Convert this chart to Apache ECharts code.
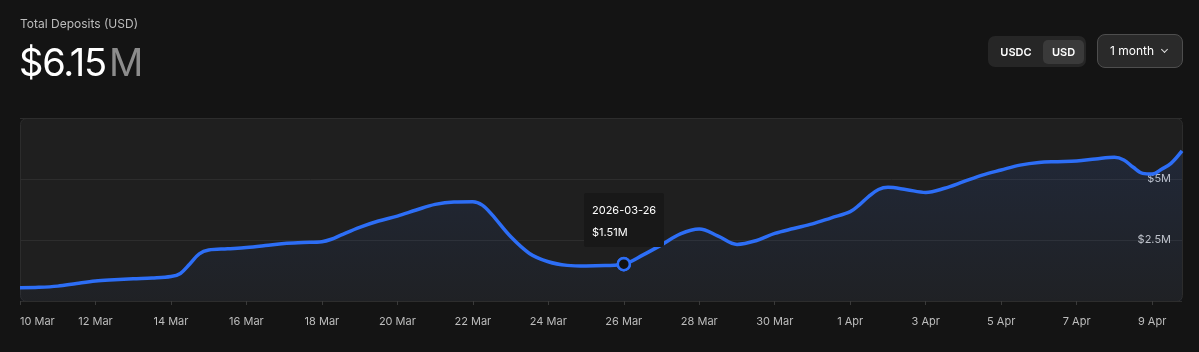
<!DOCTYPE html>
<html>
<head>
<meta charset="utf-8">
<script src="https://cdn.jsdelivr.net/npm/echarts@6/dist/echarts.min.js"></script>
<style>
  html, body { margin: 0; padding: 0; background: #141414; }
  body { width: 1199px; height: 352px; position: relative; overflow: hidden; font-family: Inter, "Noto Sans", sans-serif; }
  #chart { position: absolute; left: 0; top: 0; width: 1199px; height: 352px; }
  .head { position: absolute; left: 20px; top: 16px; color: #bdbdbd; font-size: 12px; line-height: 16px; }
  .big { position: absolute; left: 19px; top: 40px; font-size: 38px; line-height: 44px; color: #fff; letter-spacing: -1.2px; }
  .big span { color: #8c8c8c; margin-left: 3px; }
  .seg { position: absolute; left: 988px; top: 36px; width: 98px; height: 31px; background: #262626; border-radius: 7px; }
  .seg div { position: absolute; top: 4px; height: 24px; line-height: 24px; font-size: 11px; font-weight: 600; color: #fff; text-align: center; }
  .seg .off { left: 4px; width: 48px; }
  .seg .on { left: 55px; width: 41px; background: #3a3a3a; border-radius: 5px; }
  .range { position: absolute; left: 1097px; top: 34px; width: 84px; height: 32px; background: #2a2a2a; border: 1px solid #4e4e4e; border-radius: 8px; color: #fff; font-size: 12px; line-height: 32px; }
  .range .t { position: absolute; left: 12px; }
  .range .c { position: absolute; left: 64px; top: 12px; width: 4px; height: 4px; border-right: 1.5px solid #ddd; border-bottom: 1.5px solid #ddd; transform: rotate(45deg); }
</style>
</head>
<body>
<div id="chart"></div>
<div class="head">Total Deposits (USD)</div>
<div class="big">$6.15<span>M</span></div>
<div class="seg"><div class="off">USDC</div><div class="on">USD</div></div>
<div class="range"><span class="t">1 month</span><span class="c"></span></div>
<script>
// 数据（单位：百万美元）
var dates = [
  '2026-03-10 00:00', '2026-03-10 12:00', '2026-03-11 00:00', '2026-03-11 12:00',
  '2026-03-12 00:00', '2026-03-12 12:00', '2026-03-13 00:00', '2026-03-13 12:00',
  '2026-03-14 00:00', '2026-03-14 06:00', '2026-03-14 12:00', '2026-03-14 18:00',
  '2026-03-15 00:00', '2026-03-15 12:00', '2026-03-16 00:00', '2026-03-16 12:00',
  '2026-03-17 00:00', '2026-03-17 12:00', '2026-03-18 00:00', '2026-03-18 06:00',
  '2026-03-18 12:00', '2026-03-19 00:00', '2026-03-19 12:00', '2026-03-20 00:00',
  '2026-03-20 12:00', '2026-03-21 00:00', '2026-03-21 12:00', '2026-03-22 00:00',
  '2026-03-22 06:00', '2026-03-22 12:00', '2026-03-23 00:00', '2026-03-23 12:00',
  '2026-03-24 00:00', '2026-03-24 12:00', '2026-03-25 00:00', '2026-03-25 12:00',
  '2026-03-26 00:00', '2026-03-26 12:00', '2026-03-27 00:00', '2026-03-27 12:00',
  '2026-03-28 00:00', '2026-03-28 12:00', '2026-03-29 00:00', '2026-03-29 12:00',
  '2026-03-30 00:00', '2026-03-30 12:00', '2026-03-31 00:00', '2026-03-31 12:00',
  '2026-04-01 00:00', '2026-04-01 06:00', '2026-04-01 12:00', '2026-04-01 18:00',
  '2026-04-02 00:00', '2026-04-02 12:00',
  '2026-04-03 00:00', '2026-04-03 12:00', '2026-04-04 00:00', '2026-04-04 12:00',
  '2026-04-05 00:00', '2026-04-05 12:00', '2026-04-06 00:00', '2026-04-06 12:00',
  '2026-04-07 00:00', '2026-04-07 12:00', '2026-04-08 00:00', '2026-04-08 06:00',
  '2026-04-08 12:00', '2026-04-08 18:00', '2026-04-09 00:00', '2026-04-09 06:00',
  '2026-04-09 12:00', '2026-04-09 19:00'
];
var values = [
  0.545, 0.56, 0.61, 0.72,
  0.82, 0.87, 0.91, 0.94,
  1.00, 1.13, 1.52, 1.93,
  2.09, 2.14, 2.19, 2.27,
  2.36, 2.40, 2.43, 2.53,
  2.70, 3.02, 3.28, 3.48,
  3.73, 3.96, 4.06, 4.07,
  3.93, 3.55, 2.64, 1.95,
  1.61, 1.46, 1.43, 1.45,
  1.51, 1.88, 2.30, 2.75,
  2.95, 2.66, 2.32, 2.47,
  2.77, 2.97, 3.16, 3.41,
  3.66, 3.95, 4.30, 4.57,
  4.66, 4.56,
  4.45, 4.62, 4.89, 5.16,
  5.37, 5.57, 5.68, 5.71,
  5.74, 5.82, 5.89, 5.78,
  5.48, 5.23, 5.20, 5.40,
  5.64, 6.15
];
// x 轴刻度
var tickDays = [
  '2026-03-10 00:00', '2026-03-12 00:00', '2026-03-14 00:00', '2026-03-16 00:00',
  '2026-03-18 00:00', '2026-03-20 00:00', '2026-03-22 00:00', '2026-03-24 00:00',
  '2026-03-26 00:00', '2026-03-28 00:00', '2026-03-30 00:00', '2026-04-01 00:00',
  '2026-04-03 00:00', '2026-04-05 00:00', '2026-04-07 00:00', '2026-04-09 00:00'
];
var monthNames = ['Jan', 'Feb', 'Mar', 'Apr', 'May', 'Jun', 'Jul', 'Aug', 'Sep', 'Oct', 'Nov', 'Dec'];
var yMax = 7.5;
var yStep = 2.5;
var tipDate = '2026-03-26 00:00';

function toMs(s) {
  return Date.parse(s.replace(' ', 'T') + ':00Z');
}
function pad(n) {
  return n < 10 ? '0' + n : '' + n;
}

var blue = '#2d6ef6';
var tipIndex = dates.indexOf(tipDate);
var seriesData = dates.map(function(d, i) { return [toMs(d), values[i]]; });

var chart = echarts.init(document.getElementById('chart'));
var option = {
  animation: false,
  backgroundColor: 'transparent',
  textStyle: { fontFamily: 'Inter, "Noto Sans", sans-serif' },
  grid: { left: 20, right: 17, top: 118, bottom: 51 },
  graphic: [{
    type: 'rect',
    left: 20,
    top: 118,
    z: -10,
    silent: true,
    shape: { width: 1162, height: 183, r: 6 },
    style: { fill: '#1f1f1f', stroke: '#2c2c2c', lineWidth: 1 }
  }],
  tooltip: {
    trigger: 'axis',
    triggerOn: 'none',
    alwaysShowContent: true,
    transitionDuration: 0,
    axisPointer: { type: 'line', lineStyle: { opacity: 0 } },
    backgroundColor: '#181818',
    borderWidth: 0,
    padding: [6, 8, 4, 8],
    extraCssText: 'box-shadow:none;border-radius:2px;',
    textStyle: { color: '#fff', fontSize: 11, fontFamily: 'Inter, "Noto Sans", sans-serif' },
    position: function(point, params, dom, rect, size) {
      return [point[0] - size.contentSize[0] / 2, point[1] - size.contentSize[1] - 17];
    },
    formatter: function(params) {
      var v = params[0].value;
      var d = new Date(v[0]);
      var ds = d.getUTCFullYear() + '-' + pad(d.getUTCMonth() + 1) + '-' + pad(d.getUTCDate());
      return '<div style="line-height:22px">' + ds + '</div>' +
        '<div style="line-height:22px">$' + v[1].toFixed(2) + 'M</div>';
    }
  },
  xAxis: {
    type: 'value',
    min: toMs(dates[0]),
    max: toMs(dates[dates.length - 1]),
    axisLine: { show: false },
    splitLine: { show: false },
    axisTick: {
      show: true,
      length: 4,
      customValues: tickDays.map(toMs),
      lineStyle: { color: '#3a3a3a' }
    },
    axisLabel: {
      customValues: tickDays.map(toMs),
      color: '#bdbdbd',
      fontSize: 11,
      margin: 15,
      alignMinLabel: 'left',
      formatter: function(v) {
        var d = new Date(v);
        return d.getUTCDate() + ' ' + monthNames[d.getUTCMonth()];
      }
    }
  },
  yAxis: {
    type: 'value',
    position: 'right',
    min: 0,
    max: yMax,
    interval: yStep,
    axisLine: { show: false },
    axisTick: { show: false },
    splitLine: { lineStyle: { color: '#2d2d2d', width: 1 } },
    axisLabel: {
      inside: true,
      margin: 11,
      color: '#c8c8c8',
      fontSize: 11,
      showMinLabel: false,
      showMaxLabel: false,
      formatter: function(v) { return '$' + v + 'M'; }
    }
  },
  series: [{
    name: 'Total Deposits',
    type: 'line',
    data: seriesData,
    smooth: 0.35,
    showSymbol: false,
    symbol: 'circle',
    symbolSize: 11,
    lineStyle: { color: blue, width: 3.5 },
    itemStyle: { color: '#111', borderColor: blue, borderWidth: 2.5 },
    emphasis: { disabled: true },
    areaStyle: {
      color: new echarts.graphic.LinearGradient(0, 0, 0, 1, [
        { offset: 0, color: 'rgba(45,110,246,0.16)' },
        { offset: 1, color: 'rgba(45,110,246,0.04)' }
      ])
    },
    markPoint: {
      silent: true,
      symbol: 'circle',
      symbolSize: 12,
      itemStyle: { color: '#111', borderColor: blue, borderWidth: 2.5 },
      label: { show: false },
      data: [{ coord: seriesData[tipIndex] }]
    }
  }]
};
chart.setOption(option);
chart.dispatchAction({ type: 'showTip', seriesIndex: 0, dataIndex: tipIndex });
</script>
</body>
</html>
